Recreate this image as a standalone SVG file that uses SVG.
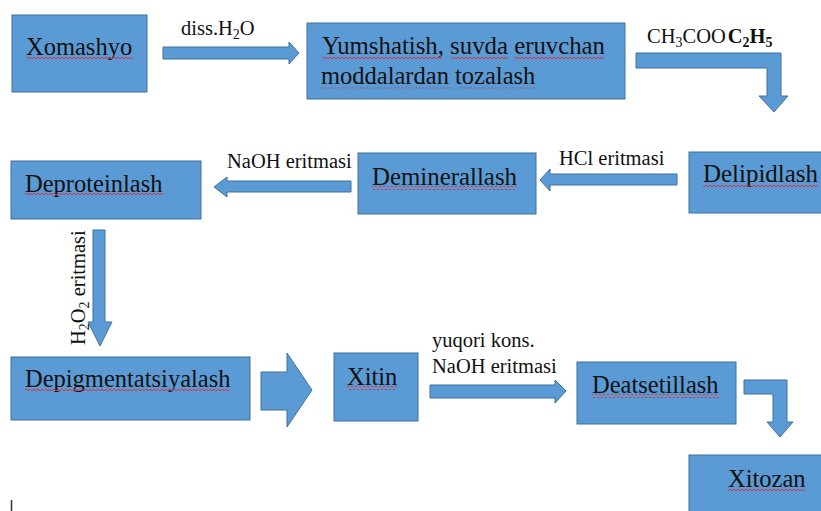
<svg xmlns="http://www.w3.org/2000/svg" width="821" height="511" viewBox="0 0 821 511">
<defs>
<pattern id="sq" width="4" height="4" patternUnits="userSpaceOnUse">
<path d="M0,3 L2,1 L4,3" fill="none" stroke="#e0303a" stroke-width="1"/>
</pattern>
</defs>
<style>
.box{fill:#5B9BD5;stroke:#41719C;stroke-width:1}
.arr{fill:#5B9BD5;stroke:#41719C;stroke-width:1}
.t{font-family:"Liberation Serif","Times New Roman",serif;font-size:24.5px;fill:#111}
.l{font-family:"Liberation Serif","Times New Roman",serif;font-size:20.5px;fill:#111}
.sq{fill:url(#sq)}
.dot{stroke:#c04050;stroke-width:1.2;stroke-dasharray:1.5 2;fill:none}
</style>
<rect width="821" height="511" fill="#ffffff"/>

<g id="connectors">
<polygon class="arr" points="163,47 289,47 289,42 299,53 289,64 289,59 163,59"/>
<polygon class="arr" points="636,53 781,53 781,96 788,96 774,112 759,96 767,96 767,68 636,68"/>
<polygon class="arr" points="351,181 227,181 227,177 214,187 227,197 227,192 351,192"/>
<polygon class="arr" points="677,174 550,174 550,169 540,180 550,191 550,185 677,185"/>
<polygon class="arr" points="93,230 105,230 105,322 112,322 100,346 88,322 93,322"/>
<polygon class="arr" points="261,372 287,372 287,353 312,390 287,427 287,410 261,410"/>
<polygon class="arr" points="430,385 555,385 555,380 566,391 555,403 555,398 430,398"/>
<polygon class="arr" points="744,380 787,380 787,422 793,422 780,437 767,422 773,422 773,394 744,394"/>
<text class="l" x="181" y="35">diss.H<tspan font-size="14" dy="4">2</tspan><tspan dy="-4">O</tspan></text>
<text class="l" x="647" y="43">CH<tspan font-size="14" dy="4">3</tspan><tspan dy="-4">COO</tspan><tspan font-weight="bold" dx="2">C</tspan><tspan font-weight="bold" font-size="14" dy="4">2</tspan><tspan font-weight="bold" dy="-4">H</tspan><tspan font-weight="bold" font-size="14" dy="4">5</tspan></text>
<text class="l" x="227" y="168">NaOH eritmasi</text>
<text class="l" x="559" y="165">HCl eritmasi</text>
<text class="l" font-size="21" transform="translate(85,345) rotate(-90)">H<tspan font-size="14" dy="4">2</tspan><tspan dy="-4">O</tspan><tspan font-size="14" dy="4">2</tspan><tspan dy="-4"> eritmasi</tspan></text>
<text class="l" x="432" y="347">yuqori kons.</text>
<text class="l" x="432" y="373">NaOH eritmasi</text>
</g>

<g id="xomashyo">
<rect class="box" x="12" y="15" width="135" height="77"/>
<text class="t" x="26" y="55">Xomashyo</text>
<rect class="sq" x="26" y="56" width="107" height="4"/>
</g>

<g id="yumshatish">
<rect class="box" x="307" y="23" width="318" height="76"/>
<text class="t" x="322" y="54" textLength="283" lengthAdjust="spacingAndGlyphs">Yumshatish, suvda eruvchan</text>
<text class="t" x="321" y="84">moddalardan tozalash</text>
<rect class="sq" x="322" y="55" width="120" height="4"/>
<rect class="sq" x="451" y="55" width="57" height="4"/>
<rect class="sq" x="514" y="55" width="90" height="4"/>
<line class="dot" x1="321" y1="88" x2="452" y2="88"/>
<line class="dot" x1="460" y1="88" x2="537" y2="88" stroke="#556"/>
</g>

<g id="delipidlash">
<rect class="box" x="689" y="152" width="135" height="61"/>
<text class="t" x="703" y="182" textLength="115" lengthAdjust="spacingAndGlyphs">Delipidlash</text>
<rect class="sq" x="703" y="183" width="115" height="4"/>
</g>

<g id="deminerallash">
<rect class="box" x="358" y="153" width="178" height="61"/>
<text class="t" x="372" y="185" textLength="145" lengthAdjust="spacingAndGlyphs" font-size="26">Deminerallash</text>
<rect class="sq" x="372" y="186" width="145" height="4"/>
</g>

<g id="deproteinlash">
<rect class="box" x="11" y="161" width="190" height="58"/>
<text class="t" x="25" y="192">Deproteinlash</text>
<rect class="sq" x="25" y="193" width="138" height="4"/>
</g>

<g id="depigmentatsiyalash">
<rect class="box" x="11" y="357" width="239" height="63"/>
<text class="t" x="25" y="387">Depigmentatsiyalash</text>
<rect class="sq" x="25" y="388" width="205" height="4"/>
</g>

<g id="xitin">
<rect class="box" x="334" y="353" width="84" height="68"/>
<text class="t" x="347" y="385">Xitin</text>
<rect class="sq" x="347" y="386" width="50" height="4"/>
</g>

<g id="deatsetillash">
<rect class="box" x="577" y="362" width="159" height="62"/>
<text class="t" x="592" y="393">Deatsetillash</text>
<rect class="sq" x="592" y="394" width="127" height="4"/>
</g>

<g id="xitozan">
<rect class="box" x="689" y="455" width="140" height="70"/>
<text class="t" x="728" y="487">Xitozan</text>
<rect class="sq" x="728" y="488" width="77" height="4"/>
</g>

<line x1="11.5" y1="500" x2="11.5" y2="511" stroke="#333" stroke-width="1.5"/>
</svg>
